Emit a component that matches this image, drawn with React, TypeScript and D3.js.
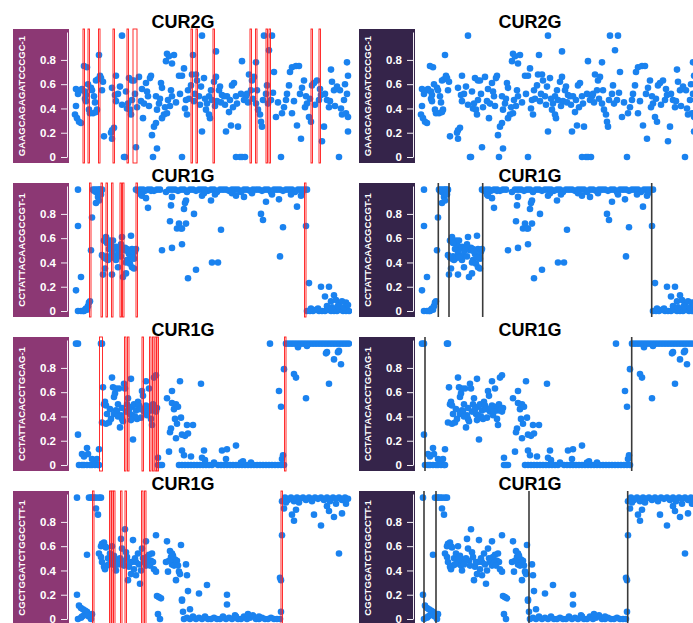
import React, { useEffect, useRef } from 'react';
import * as d3 from 'd3';

// row titles and cell barcodes
const titles = ['CUR2G', 'CUR1G', 'CUR1G', 'CUR1G'];
const cellLabels = ['GAAGCAGAGATCCCGC-1', 'CCTATTACAACGCCGT-1', 'CCTATTACACCTGCAG-1', 'CGCTGGATCTGGCCTT-1'];
const yTicks = [0, 0.2, 0.4, 0.6, 0.8];

// [position along genome, allele fraction]
const row1Points: [number, number][] = [
  [2,0.42],[1,0.35],[3,0.32],[5,0.29],[7,0.28],[2,0.56],[7,0.55],[8,0.56],[11,0.54],[10,0.75],[13,0.74],[11,0.48],[12,0.51],[12,0.46],
  [15,0.39],[16,0.36],[19,0.36],[22,0.37],[23,0.39],[17,0.57],[18,0.55],[20,0.5],[22,0.63],[24,0.64],[26,0.67],[25,0.84],[27,0.65],
  [28,0.55],[30,0.17],[37,0.2],[38,0.22],[40,0.24],[38,0.15],[38,0.57],[41,0.51],[42,0.46],[42,0.67],[48,1],[48,0.43],[50,0],[51,0],
  [52,0.54],[53,0.4],[55,0.65],[56,0.39],[57,0.35],[58,0.47],[58,0.63],[60,0.63],[62,0.08],[65,0.66],[67,0.46],[68,0.56],[69,0.32],
  [72,0.61],[73,0.54],[74,0.5],[76,0.65],[77,0.67],[78,0.18],[79,0],[80,0.25],[82,0.28],[83,0.07],[82,0.5],[83,0.39],[85,0.44],
  [87,0.61],[88,0.57],[88,0.32],[90,0.35],[91,0.41],[93,0.36],[94,0.47],[92,0.79],[93,0.85],[95,0.83],[98,0.77],[100,0.84],[97,0.55],
  [98,0.5],[105,0.67],[108,0],[108,0.67],[110,0.73],[112,0.47],[113,0.35],[114,0.55],[117,0.59],[118,0.68],[119,0.84],[120,0.46],
  [122,0.68],[123,0.63],[125,0.5],[127,0.58],[128,0.21],[128,1],[130,0.65],[132,0.39],[133,0.44],[135,0.35],[136,0.32],[135,0.5],
  [138,0.47],[140,0.62],[142,0.66],[142,0.87],[143,0.46],[145,0.55],[146,0.58],[148,0.51],[150,0.5],[152,0.21],[153,0.5],[155,0.37],
  [157,0.26],[158,0.59],[160,0.61],[162,0.5],[162,0],[164,0.25],[166,0],[168,0.79],[168,0],[171,0],[170,0.47],[172,0.5],[173,0.52],
  [175,0.68],[177,0.55],[178,0.63],[180,0.66],[182,0.78],[182,0.44],[184,0.39],[186,0.35],[187,0.29],[188,0.25],[190,1],[192,0.52],
  [193,0.59],[195,0.88],[197,0.47],[198,1],[200,0.7],[202,0.33],[207,0],[208,0.36],[212,0.47],[213,0.52],[215,0.59],[216,0.7],
  [218,0.36],[218,0.74],[222,0.75],[225,0.75],[223,0.26],[227,0.15],[228,0.57],[230,0.63],[232,0.5],[233,0.44],[235,0.33],[237,0.29],
  [238,0.59],[240,0.61],[243,0.63],[245,0.47],[247,0.51],[248,0.13],[250,0.25],[253,0.47],[255,0.41],[257,0.72],[258,0.62],[260,0.55],
  [263,0.58],[265,0],[267,0.4],[268,0.35],[270,0.47],[272,0.36],
  [4,0.52],[14,0.6],[21,0.45],[29,0.62],[44,0.52],[46,0.58],[54,0.44],[61,0.52],[63,0.41],[70,0.44],[75,0.42],[86,0.48],[96,0.42],
  [102,0.45],[106,0.52],[111,0.4],[115,0.48],[121,0.52],[126,0.43],[131,0.48],[137,0.55],[141,0.42],[147,0.45],[151,0.43],[156,0.47],
  [159,0.41],[163,0.44],[167,0.52],[174,0.45],[179,0.48],[183,0.55],[189,0.47],[194,0.44],[199,0.53],[204,0.45],[210,0.41],[220,0.46],
  [226,0.52],[231,0.41],[236,0.48],[241,0.43],[246,0.56],[251,0.52],[256,0.46],[261,0.42],[266,0.55],[271,0.6],[273,0.78],[274,0.67],
  [273,0.52],[274,0.33],[274,0.21],
];

const row2Points: [number, number][] = [
  [4,1],[4,0.7],[2,0.17],[7,0.28],[4,0],[7,0],[9,0],[11,0.01],[12,0.02],[14,0.04],[15,0.07],[16,0.08],[13,0.01],[10,0],
  [17,0.5],[18,0.77],[19,1],[21,1],[23,1],[25,1],[27,0.99],[28,1],[22,0.98],[24,0.94],[22,0.89],[25,0.91],[27,0.96],[20,0.99],[26,1],
  [28,0.46],[29,0.3],[30,0.58],[31,0.35],[32,0.43],[32,0.61],[33,0.45],[34,0.42],[35,0.51],[36,0.58],[37,0.55],[38,0.3],[38,0.47],
  [39,0.58],[40,0.51],[41,0.45],[42,0.42],[43,0.46],[44,0.36],[46,0.51],[47,0.45],[48,0.61],[49,0.28],[50,0.5],[51,0.52],[52,0.4],
  [52,0.31],[53,0.42],[55,0.47],[56,0.39],[57,0.62],[58,0.36],[58,0.51],[59,0.45],[60,0.35],[61,0.49],[62,0.51],[35,0.43],[42,0.53],
  [45,0.5],[53,0.51],[57,0.44],[30,0.44],[33,0.56],[39,0.44],[47,0.55],[54,0.49],[60,0.43],
  [62,1],[64,0.99],[66,1],[69,1],[71,0.99],[74,1],[77,1],[80,0.99],[83,1],[86,1],[92,0.98],[95,1],[98,1],[101,1],[104,0.99],[107,1],
  [110,1],[113,0.98],[116,1],[119,1],[122,0.99],[125,1],[128,1],[131,1],[134,0.99],[137,1],[140,1],[143,0.98],[146,1],[149,1],[152,1],
  [155,0.99],[158,1],[161,1],[164,1],[167,0.98],[170,1],[173,1],[176,0.99],[179,1],[182,1],[185,1],[188,0.99],[191,1],[194,1],
  [197,0.98],[200,1],[203,1],[206,1],[209,0.99],[212,1],[215,1],[218,1],[221,0.98],[224,1],[227,1],[230,1],[233,1],
  [67,0.96],[68,0.95],[72,0.93],[74,0.85],[77,0.99],[88,0.5],[96,0.74],[97,0.87],[98,0.94],[98,0.52],[103,0.68],[105,0.72],[107,0.68],
  [108,0.55],[108,0.68],[110,0.84],[111,0.89],[112,0.91],[112,0.72],[114,0.27],[120,0.8],[122,0.34],[128,0.95],[130,0.97],[137,0.91],
  [138,0.4],[141,0.96],[144,0.4],[147,0.67],[158,0.97],[162,0.95],[170,0.94],[178,0.97],[187,0.8],[189,0.75],[192,0.9],[198,0.96],
  [205,0.92],[206,0.45],[209,0.69],[217,0.96],[223,0.86],[227,0.95],[228,0.97],[232,0.7],
  [233,0],[236,0],[239,0],[242,0.01],[245,0],[248,0],[251,0],[254,0.01],[257,0],[260,0],[263,0],[266,0.01],[269,0],[272,0],[275,0],
  [235,0.23],[247,0.2],[251,0.12],[255,0.2],[257,0.08],[260,0.13],[262,0.09],[265,0.06],[268,0.08],[272,0.07],[244,0.02],[253,0.04],
  [258,0.03],[264,0.04],[270,0.03],[274,0.05],[237,0.02],
];

const row3Points: [number, number][] = [
  [2,1],[4,1],[4,0.25],[5,0],[8,0],[10,0],[13,0],[16,0],[18,0],[21,0],[24,0],[25,0],[8,0.09],[10,0.07],[13,0.14],[14,0.09],[18,0.05],
  [20,0.04],[23,0.05],[25,0.13],[27,1],[28,1],
  [29,0.64],[30,0.5],[31,0.52],[32,0.49],[33,0.42],[28,0.35],[32,0.34],[35,0.35],[37,0.38],[38,0.72],[39,0.64],[40,0.56],[41,0.59],
  [42,0.63],[42,0.45],[43,0.44],[44,0.5],[45,0.63],[46,0.31],[47,0.41],[48,0.38],[50,0.67],[51,0.63],[52,0.44],[53,0.5],[54,0.55],
  [56,0.42],[57,0.71],[58,0.48],[58,0.41],[59,0.21],[60,0.5],[62,0.45],[63,0.38],[64,0.52],[65,0.49],[67,0.39],[68,0.61],[69,0.57],
  [70,0.44],[72,0.69],[72,0.49],[73,0.41],[75,0.63],[76,0.48],[77,0.38],[78,0.33],[78,0.45],[79,0.5],[80,0.72],[82,0.74],[82,0.44],
  [83,0.47],[36,0.46],[40,0.42],[44,0.4],[48,0.47],[55,0.46],[61,0.4],[66,0.46],[71,0.47],[74,0.44],[81,0.46],[49,0.36],[57,0.37],
  [84,0.06],[86,0],[88,0],[84,0],
  [93,0.55],[95,0.11],[96,0.27],[97,0.3],[98,0.61],[98,0.51],[100,0.46],[101,0.38],[102,0.5],[102,0.22],[103,0.34],[104,0.48],
  [106,0.69],[107,0.39],[108,0.25],[108,0.12],[110,0.08],[111,0.24],[113,0.33],[114,0.26],[117,0.07],[119,0.33],[127,0.67],
  [105,0],[108,0],[111,0],[114,0],[117,0],[120,0],[123,0],[126,0],[129,0],[132,0],[135,0],[138,0],[144,0],[147,0],[150,0],[153,0],
  [156,0],[159,0],[162,0],[165,0],[168,0],[171,0],[174,0],[177,0],[180,0],[183,0],[186,0],[189,0],[192,0],[195,0],[198,0],[201,0],
  [204,0],[207,0],[210,0],
  [128,0.06],[130,0.12],[131,0.04],[140,0.02],[148,0.12],[152,0.05],[153,0.13],[162,0.16],[167,0.02],[169,0.03],[177,0.02],[205,0.61],
  [207,0.48],[208,0.05],[209,0.08],[210,0.79],[196,1],
  [212,1],[215,1],[218,1],[221,1],[224,1],[227,1],[230,1],[233,1],[236,1],[239,1],[242,1],[245,1],[248,1],[251,1],[254,1],[257,1],
  [260,1],[263,1],[266,1],[269,1],[272,1],[275,1],
  [220,0.75],[222,0.72],[224,0.97],[232,0.55],[233,0.98],[252,0.92],[253,0.93],[255,0.67],[260,0.87],[264,0.93],[265,0.94],[267,0.83],
];

const row4Points: [number, number][] = [
  [3,1],[3,0.2],[4,0],[7,0.01],[8,0.02],[10,0.03],[12,0.04],[13,0.06],[15,0.02],[17,0],[18,0.04],[5,0.11],[7,0.09],[9,0.08],[11,0.07],
  [13,0.03],[13,0.53],[15,1],[17,1],[18,1],[20,1],[22,1],[25,1],[27,1],[22,0.91],[24,0.86],
  [27,0.6],[28,0.62],[30,0.63],[31,0.6],[32,0.59],[25,0.54],[27,0.51],[28,0.47],[30,0.43],[31,0.41],[33,0.44],[34,0.5],[36,0.54],
  [37,0.49],[38,0.46],[38,0.6],[40,0.52],[41,0.44],[42,0.4],[43,0.47],[45,0.49],[47,0.66],[48,0.58],[49,0.48],[50,0.44],[51,0.74],
  [52,0.55],[53,0.51],[54,0.32],[55,0.43],[57,0.37],[58,0.47],[59,0.65],[60,0.41],[62,0.47],[62,0.36],[64,0.54],[66,0.29],[67,0.4],
  [68,0.58],[70,0.47],[72,0.64],[72,0.44],[73,0.51],[75,0.53],[77,0.48],[78,0.54],[79,0.47],[80,0.41],[82,0.69],[82,0.39],
  [35,0.45],[39,0.5],[44,0.45],[46,0.5],[56,0.47],[61,0.5],[65,0.45],[69,0.5],[74,0.46],[76,0.44],
  [83,0.19],[85,0.18],[87,0.17],[84,0.04],[86,0],
  [92,0.47],[93,0.64],[94,0.39],[96,0.56],[97,0.51],[98,0.45],[98,0.54],[100,0.44],[101,0.49],[102,0.32],[103,0.48],[105,0.39],
  [106,0.37],[107,0.61],[108,0.16],[108,0.15],[109,0.06],[95,0.48],[99,0.52],[104,0.44],
  [112,0.45],[113,0.36],[114,0.23],[116,0.08],
  [110,0],[113,0.01],[116,0],[119,0.02],[122,0],[125,0.01],[128,0],[131,0.02],[134,0],[137,0],[140,0.01],[143,0],[146,0],[149,0.02],
  [152,0],[155,0.01],[158,0],[161,0.03],[164,0],[167,0],[170,0.02],[173,0],[176,0.01],[179,0.03],[182,0],[185,0],[188,0.01],[191,0],
  [194,0],[197,0.01],[200,0],[203,0],[206,0],
  [125,0.21],[133,0.28],[153,0.2],[153,0.12],[162,0.02],[174,0.04],[185,0.02],
  [207,0.06],[207,0.32],[206,0.34],[208,0.69],
  [208,0.97],[211,1],[214,0.98],[217,1],[220,0.97],[223,1],[226,0.99],[229,1],[232,0.98],[235,1],[238,0.97],[241,1],[244,0.99],
  [247,1],[250,0.98],[253,1],[256,0.97],[259,1],[262,0.99],[265,1],[268,0.98],[271,1],[274,0.99],
  [210,0.91],[212,0.96],[218,0.86],[220,0.81],[222,0.9],[225,0.96],[240,0.86],[247,0.77],[253,0.93],[255,0.89],[260,0.84],[262,0.95],
  [265,0.54],[268,0.87],[272,0.95],
];

// breakpoints drawn on the left column (as [start, end]) and right column
const row1Red: [number, number][] = [[9,10.5],[14,15.5],[24.5,26],[39,40.5],[53,54.5],[59,63],[117,118.5],[122,123.5],[139,140.5],[176,177.5],[181.5,183],[192,193.5],[195,196.5],[237,238.5],[245,246.5]];
const row2Red: [number, number][] = [[15.5,17],[27,28.5],[32,33.5],[37.5,39],[46,47.5],[48.5,50],[62,63.5],[230.5,232]];
const row3Red: [number, number][] = [[25.5,28.5],[50.5,52],[53.5,55],[68,69.5],[75.5,77],[78.5,80],[81,82.5],[83,84.5],[210.5,212]];
const row4Red: [number, number][] = [[18.5,20],[35.5,37],[37.5,39],[39.5,41],[46.5,48],[51,52.5],[67.5,69],[70.5,72],[207,208.5]];
const row1Black: number[] = [];
const row2Black: number[] = [18.3, 29, 62.7, 231.7];
const row3Black: number[] = [5, 211.7];
const row4Black: number[] = [4, 16, 109, 207.7];

const rows = [
  { points: row1Points, red: row1Red, black: row1Black },
  { points: row2Points, red: row2Red, black: row2Black },
  { points: row3Points, red: row3Red, black: row3Black },
  { points: row4Points, red: row4Red, black: row4Black },
];

const COL_SHIFT = 346;
const ROW_SHIFT = 154;
const FONT = '"Liberation Sans", Arial, Helvetica, sans-serif';

const App = () => {
  const svgRef = useRef<SVGSVGElement>(null);

  useEffect(() => {
    if (!svgRef.current) return;
    const svg = d3.select(svgRef.current);
    svg.selectAll('*').remove();
    const defs = svg.append('defs');

    rows.forEach((row, r) => {
      [0, 1].forEach((c) => {
        const dx = c * COL_SHIFT;
        const zero = 157 + r * ROW_SHIFT;
        const top = zero - 128;
        const x = d3.scaleLinear().domain([0, 280]).range([74 + dx, 354 + dx]);
        const y = d3.scaleLinear().domain([0, 1.03]).range([zero, zero - 125]);

        const clipId = `clip-${r}-${c}`;
        defs.append('clipPath').attr('id', clipId)
          .append('rect')
          .attr('x', 70 + dx).attr('y', top - 10)
          .attr('width', c === 0 ? 282 : 300).attr('height', 150);

        const g = svg.append('g');

        // label box
        g.append('rect')
          .attr('x', 13 + dx).attr('y', top)
          .attr('width', 56).attr('height', 134)
          .attr('fill', c === 0 ? '#8c3874' : '#35244a');

        g.append('text')
          .attr('transform', `translate(${21 + dx},${top + 67}) rotate(-90)`)
          .attr('text-anchor', 'middle')
          .attr('dominant-baseline', 'central')
          .attr('fill', '#ffffff')
          .style('font-family', FONT)
          .style('font-weight', 'bold')
          .style('font-size', '9.6px')
          .text(cellLabels[r]);

        // y axis
        const axis = g.append('g')
          .attr('transform', `translate(${67 + dx},0)`)
          .call(d3.axisLeft(y).tickValues(yTicks).tickSize(6).tickPadding(5).tickSizeOuter(0)
            .tickFormat((d) => (d === 0 ? '0' : d3.format('.1f')(d as number))));
        axis.select('.domain').attr('stroke', '#f2eef4');
        axis.selectAll('.tick line').attr('stroke', '#f2eef4');
        axis.selectAll('.tick text')
          .attr('fill', '#ffffff')
          .style('font-family', FONT)
          .style('font-weight', 'bold')
          .style('font-size', '11.5px');

        // title
        g.append('text')
          .attr('x', 183 + dx + c)
          .attr('y', zero - 129)
          .attr('text-anchor', 'middle')
          .attr('fill', '#000')
          .style('font-family', FONT)
          .style('font-weight', 'bold')
          .style('font-size', '18px')
          .text(titles[r]);

        const plot = g.append('g').attr('clip-path', `url(#${clipId})`);

        plot.selectAll('circle')
          .data(row.points)
          .join('circle')
          .attr('cx', (d) => x(d[0]))
          .attr('cy', (d) => y(d[1]))
          .attr('r', 3.3)
          .attr('fill', '#1a82ef');

        if (c === 0) {
          plot.selectAll('rect.brk')
            .data(row.red)
            .join('rect')
            .attr('class', 'brk')
            .attr('x', (d) => x(d[0]))
            .attr('y', top)
            .attr('width', (d) => x(d[1]) - x(d[0]))
            .attr('height', 134)
            .attr('fill', 'none')
            .attr('stroke', '#ff1a1a')
            .attr('stroke-width', 0.9);
        } else {
          plot.selectAll('line.brk')
            .data(row.black)
            .join('line')
            .attr('class', 'brk')
            .attr('x1', (d) => x(d)).attr('x2', (d) => x(d))
            .attr('y1', top).attr('y2', top + 134)
            .attr('stroke', '#3a3a3a')
            .attr('stroke-width', 1.6);
        }
      });
    });
  }, []);

  return (
    <svg
      ref={svgRef}
      width={693}
      height={623}
      style={{ position: 'absolute', left: 0, top: 0, background: '#fff' }}
    />
  );
};

export default App;
